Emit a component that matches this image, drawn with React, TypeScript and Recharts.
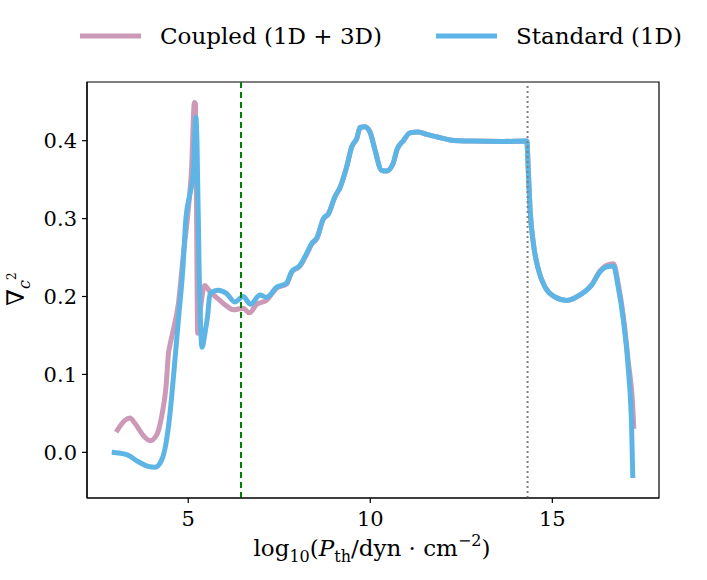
import { LineChart, Line, XAxis, YAxis, ReferenceLine, ReferenceArea } from "recharts";

// log10 P_th values and gradient values
const coupledX = [
  3.02, 3.26, 3.4, 3.54, 3.76, 3.95, 4.13, 4.27, 4.39, 4.46, 4.5, 4.59, 4.73, 4.86, 5.0, 5.09, 5.17, 5.2,
  5.23, 5.26, 5.35, 5.45, 5.6, 5.87, 6.05, 6.24, 6.51, 6.68, 6.88, 7.15, 7.43, 7.7, 7.84, 8.07, 8.25,
  8.39, 8.54, 8.71, 8.85, 9.03, 9.17, 9.35, 9.49, 9.63, 9.72, 9.85, 9.99, 10.13, 10.31, 10.45, 10.63,
  10.73, 10.91, 11.09, 11.32, 11.55, 11.82, 12.19, 12.74, 13.65, 14.3, 14.34, 14.39, 14.48, 14.62,
  14.8, 15.07, 15.4, 15.76, 16.08, 16.31, 16.49, 16.68, 16.81, 16.95, 17.09, 17.2, 17.24,
];
const coupledY = [
  0.026, 0.041, 0.044, 0.037, 0.022, 0.015, 0.022, 0.046, 0.084, 0.128, 0.138, 0.157, 0.191, 0.251,
  0.311, 0.362, 0.449, 0.447, 0.3, 0.153, 0.19, 0.214, 0.206, 0.195, 0.188, 0.183, 0.185, 0.179,
  0.19, 0.195, 0.211, 0.216, 0.231, 0.239, 0.254, 0.267, 0.275, 0.299, 0.306, 0.328, 0.34, 0.366,
  0.392, 0.403, 0.417, 0.418, 0.412, 0.388, 0.362, 0.361, 0.371, 0.388, 0.4, 0.41, 0.411, 0.408,
  0.405, 0.401, 0.3995, 0.399, 0.3995, 0.362, 0.311, 0.268, 0.234, 0.212, 0.1995, 0.195, 0.202,
  0.215, 0.233, 0.24, 0.242, 0.216, 0.175, 0.115, 0.066, 0.03,
];

const standardX = [
  2.9, 3.31, 3.63, 3.9, 4.09, 4.27, 4.39, 4.5, 4.61, 4.73, 4.85, 4.94, 5.05, 5.14, 5.21, 5.24, 5.3,
  5.38, 5.46, 5.53, 5.6, 5.82, 6.05, 6.28, 6.51, 6.71, 6.97, 7.15, 7.43, 7.7, 7.84, 8.07, 8.25, 8.39,
  8.54, 8.71, 8.85, 9.03, 9.17, 9.35, 9.49, 9.63, 9.72, 9.85, 9.99, 10.13, 10.31, 10.45, 10.63, 10.73,
  10.91, 11.09, 11.32, 11.55, 11.82, 12.19, 12.74, 13.65, 14.3, 14.34, 14.39, 14.48, 14.62, 14.8,
  15.07, 15.4, 15.76, 16.08, 16.31, 16.49, 16.68, 16.81, 16.95, 17.09, 17.18, 17.21,
];
const standardY = [
  0.0, -0.003, -0.012, -0.018, -0.019, -0.01, 0.0115, 0.05, 0.105, 0.17, 0.234, 0.302, 0.332, 0.358,
  0.43, 0.4, 0.234, 0.135, 0.153, 0.174, 0.204, 0.208, 0.204, 0.193, 0.2, 0.19, 0.202, 0.199, 0.212,
  0.217, 0.232, 0.24, 0.255, 0.268, 0.276, 0.3, 0.306, 0.328, 0.34, 0.366, 0.392, 0.403, 0.417, 0.418,
  0.411, 0.388, 0.362, 0.361, 0.371, 0.388, 0.4, 0.41, 0.411, 0.408, 0.405, 0.401, 0.3995, 0.399,
  0.3995, 0.362, 0.311, 0.268, 0.234, 0.212, 0.1995, 0.195, 0.202, 0.2145, 0.2315, 0.238, 0.239,
  0.212, 0.17, 0.1055, 0.0286, -0.033,
];

const xTicks = [5, 10, 15];
const yTicks = [0, 0.1, 0.2, 0.3, 0.4];
const xDomain: [number, number] = [2.22, 17.93];
const yDomain: [number, number] = [-0.0586, 0.4753];
const transitionP = 6.45;
const cutoffP = 14.32;

const coupled = coupledX.map((x, i) => ({ x, y: coupledY[i] }));
const standard = standardX.map((x, i) => ({ x, y: standardY[i] }));

const PINK = "#cc9ab6";
const BLUE = "#5db5e6";
const FONT = "DejaVu Serif";

const legendItems = [
  { color: PINK, label: "Coupled (1D + 3D)", left: 80 },
  { color: BLUE, label: "Standard (1D)", left: 436 },
];

export default function App() {
  return (
    <div style={{ position: "absolute", left: 0, top: 0, width: 707, height: 580, background: "#fff" }}>
      <LineChart width={707} height={580} margin={{ top: 82, right: 48, left: 27, bottom: 52 }}>
        <XAxis
          dataKey="x"
          type="number"
          domain={xDomain}
          ticks={xTicks}
          allowDataOverflow
          stroke="#000"
          strokeWidth={1.2}
          tickSize={5}
          tickMargin={8}
          height={30}
          tick={{ fill: "#000", fontFamily: FONT, fontSize: 21 }}
        />
        <YAxis
          type="number"
          domain={yDomain}
          ticks={yTicks}
          allowDataOverflow
          stroke="#000"
          strokeWidth={1.2}
          tickSize={5}
          tickMargin={5}
          width={60}
          tickFormatter={(v: number) => v.toFixed(1)}
          tick={{ fill: "#000", fontFamily: FONT, fontSize: 21 }}
        />
        <ReferenceArea x1={xDomain[0]} x2={xDomain[1]} y1={yDomain[0]} y2={yDomain[1]} fill="none" fillOpacity={0} stroke="#000" strokeWidth={1.2} />
        <Line data={coupled} dataKey="y" type="monotoneX" stroke={PINK} strokeWidth={5} dot={false} isAnimationActive={false} />
        <Line data={standard} dataKey="y" type="monotoneX" stroke={BLUE} strokeWidth={5} dot={false} isAnimationActive={false} />
        <ReferenceLine x={transitionP} stroke="#008000" strokeWidth={2} strokeDasharray="6 4" />
        <ReferenceLine x={cutoffP} stroke="#808080" strokeWidth={2} strokeDasharray="2 3" />
      </LineChart>
      <svg width={707} height={580} style={{ position: "absolute", left: 0, top: 0, pointerEvents: "none" }}>
        {legendItems.map((it) => (
          <g key={it.label}>
            <line x1={it.left} y1={36} x2={it.left + 61} y2={36} stroke={it.color} strokeWidth={5} />
            <text x={it.left + 80} y={44} fontFamily={FONT} fontSize={23} fill="#000">
              {it.label}
            </text>
          </g>
        ))}
        <text x={372} y={556} textAnchor="middle" fontFamily={FONT} fontSize={23} fill="#000">
          log<tspan fontSize={16} dy={6}>10</tspan>
          <tspan dy={-6}>(</tspan>
          <tspan fontStyle="italic">P</tspan>
          <tspan fontSize={16} dy={6}>th</tspan>
          <tspan dy={-6}>/dyn · cm</tspan>
          <tspan fontSize={16} dy={-10}>−2</tspan>
          <tspan dy={10}>)</tspan>
        </text>
      </svg>
      <div
        style={{
          position: "absolute",
          left: -4,
          top: 274,
          width: 40,
          height: 30,
          lineHeight: "30px",
          textAlign: "center",
          fontFamily: FONT,
          fontSize: 24,
          transform: "rotate(-90deg)",
          transformOrigin: "50% 50%",
          whiteSpace: "nowrap",
        }}
      >
        ∇<span style={{ fontSize: 16, fontStyle: "italic", position: "relative", top: 6 }}>c</span>
        <span style={{ fontSize: 12, position: "relative", top: -8 }}>2</span>
      </div>
    </div>
  );
}
